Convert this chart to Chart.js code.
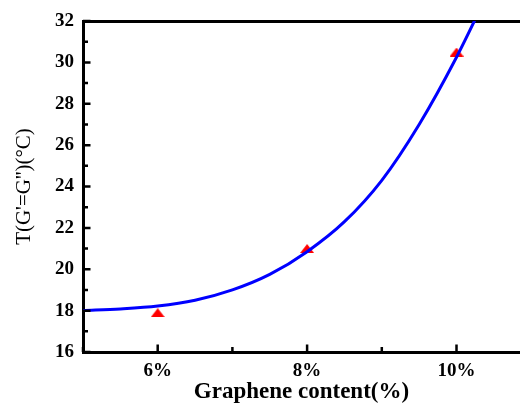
<!DOCTYPE html>
<html>
<head>
<meta charset="utf-8">
<script src="https://cdn.jsdelivr.net/npm/chart.js@4/dist/chart.umd.min.js"></script>
<style>
  html, body { margin: 0; padding: 0; background: #fff; overflow: hidden; }
  #wrap { width: 520px; height: 403px; }
</style>
</head>
<body>
<div id="wrap"><canvas id="chart" width="520" height="403"></canvas></div>
<script>
// measured points
const contentPct = [6, 8, 10];
const crossoverT = [17.9, 21.0, 30.5];
// fitted curve, sampled along the drawn line
const fitX = [5.0, 5.5, 6.0, 6.5, 7.0, 7.5, 8.0, 8.5, 9.0, 9.5, 10.0, 10.4];
const fitY = [18.0, 18.08, 18.22, 18.5, 19.0, 19.75, 20.85, 22.3, 24.3, 27.0, 30.25, 33.2];
const xMin = 5, xMax = 10.85;
const yMin = 16, yMax = 32;

const serif = "'Liberation Serif', 'Times New Roman', serif";

// flat red triangle marker
const tri = document.createElement('canvas');
tri.width = 14; tri.height = 9;
const tctx = tri.getContext('2d');
tctx.fillStyle = '#ff0000';
tctx.beginPath();
tctx.moveTo(0, 9); tctx.lineTo(7, 0); tctx.lineTo(14, 9);
tctx.closePath();
tctx.fill();

// tick marks pointing into the plot, long on even values, short on odd
const innerTicks = {
  id: 'innerTicks',
  afterDraw(chart) {
    const ctx = chart.ctx;
    const {left, bottom} = chart.chartArea;
    const xs = chart.scales.x, ys = chart.scales.y;
    ctx.save();
    ctx.strokeStyle = '#000';
    ctx.lineWidth = 2.5;
    ctx.beginPath();
    xs.ticks.forEach(t => {
      const px = xs.getPixelForValue(t.value);
      const len = (t.value % 2 === 0 ? 6 : 3.5) + 1.5;
      ctx.moveTo(px, bottom);
      ctx.lineTo(px, bottom - len);
    });
    ys.ticks.forEach(t => {
      const py = ys.getPixelForValue(t.value);
      const len = (t.value % 2 === 0 ? 6 : 3.5) + 1.5;
      ctx.moveTo(left, py);
      ctx.lineTo(left + len, py);
    });
    ctx.stroke();
    ctx.restore();
  }
};

// no extra room for end labels, so the plot runs to the canvas edge
function noPad(scale) {
  scale.paddingLeft = 0; scale.paddingRight = 0;
  scale.paddingTop = 0; scale.paddingBottom = 0;
}

new Chart(document.getElementById('chart'), {
  type: 'scatter',
  data: {
    datasets: [
      {
        type: 'line',
        data: fitX.map((x, i) => ({x: x, y: fitY[i]})),
        borderColor: '#0000ff',
        borderWidth: 3,
        pointRadius: 0,
        fill: false,
        cubicInterpolationMode: 'monotone',
        clip: 0
      },
      {
        data: contentPct.map((x, i) => ({x: x, y: crossoverT[i]})),
        pointStyle: tri,
        pointRadius: 7,
        showLine: false
      }
    ]
  },
  options: {
    responsive: false,
    animation: false,
    devicePixelRatio: 1,
    layout: { padding: 0, autoPadding: false },
    plugins: { legend: { display: false }, tooltip: { enabled: false } },
    scales: {
      x: {
        type: 'linear',
        position: 'bottom',
        min: xMin, max: xMax,
        grid: { display: false, drawTicks: false },
        border: { display: true, color: '#000', width: 3 },
        ticks: {
          stepSize: 1,
          includeBounds: false,
          autoSkip: false,
          maxRotation: 0,
          padding: 8,
          color: '#000',
          font: { family: serif, size: 19, weight: 'bold' },
          callback: v => (v % 2 === 0 ? v + '%' : '')
        },
        title: {
          display: true,
          text: 'Graphene content(%)',
          color: '#000',
          padding: { top: 0, bottom: -1 },
          font: { family: serif, size: 23, weight: 'bold', lineHeight: 1 }
        },
        afterFit(scale) { scale.height = 51; noPad(scale); }
      },
      x2: {
        type: 'linear',
        position: 'top',
        min: xMin, max: xMax,
        grid: { display: false, drawTicks: false },
        border: { display: true, color: '#000', width: 3 },
        ticks: { display: false },
        afterFit(scale) { scale.height = 21; noPad(scale); }
      },
      y: {
        type: 'linear',
        min: yMin, max: yMax,
        grid: { display: false, drawTicks: false },
        border: { display: true, color: '#000', width: 3 },
        ticks: {
          stepSize: 1,
          autoSkip: false,
          padding: 9,
          color: '#000',
          font: { family: serif, size: 19, weight: 'bold' },
          callback: v => (v % 2 === 0 ? String(v) : '')
        },
        title: {
          display: true,
          text: "T(G'=G'')(\u00B0C)",
          color: '#000',
          padding: { top: 14, bottom: 0 },
          font: { family: serif, size: 21, weight: 'normal', lineHeight: 1 }
        },
        afterFit(scale) { scale.width = 83; noPad(scale); }
      }
    }
  },
  plugins: [innerTicks]
});
</script>
</body>
</html>
